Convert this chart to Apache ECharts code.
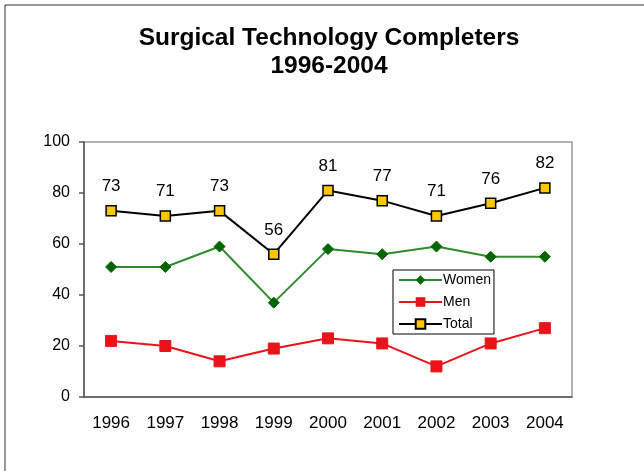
<!DOCTYPE html>
<html>
<head>
<meta charset="utf-8">
<script src="https://cdn.jsdelivr.net/npm/echarts@6/dist/echarts.min.js"></script>
<style>
  html, body { margin: 0; padding: 0; background: #fff; }
  #chart { width: 644px; height: 471px; }
</style>
</head>
<body>
<div id="chart"></div>
<script>
// Surgical technology program completers by year
const years = ['1996', '1997', '1998', '1999', '2000', '2001', '2002', '2003', '2004'];
const women = [51, 51, 59, 37, 58, 56, 59, 55, 55];
const men = [22, 20, 14, 19, 23, 21, 12, 21, 27];
const total = [73, 71, 73, 56, 81, 77, 71, 76, 82];
const titleLines = ['Surgical Technology Completers', '1996-2004'];

const font = 'Liberation Sans, Arial, sans-serif';
const chart = echarts.init(document.getElementById('chart'), null, { renderer: 'canvas' });

// Two-line heading centred over the plot area
const titleText = titleLines.map((t, i) => ({
  type: 'text',
  x: 329,
  y: 38 + i * 28,
  silent: true,
  style: {
    text: t,
    textAlign: 'center',
    textVerticalAlign: 'middle',
    font: 'bold 24.5px ' + font,
    fill: '#000'
  }
}));

chart.setOption({
  backgroundColor: '#fff',
  animation: false,
  graphic: [{
    type: 'rect',
    shape: { x: 5, y: 5, width: 700, height: 600 },
    style: { fill: 'none', stroke: '#333', lineWidth: 1 },
    silent: true
  }].concat(titleText),
  grid: {
    left: 84, right: 72, top: 142, bottom: 74,
    show: true, borderColor: '#999', borderWidth: 1.5
  },
  legend: {
    orient: 'vertical',
    left: 393, top: 270,
    padding: [3, 3, 3, 5],
    itemGap: 8,
    itemWidth: 43, itemHeight: 12,
    backgroundColor: '#fff',
    borderColor: '#000', borderWidth: 1,
    textStyle: { fontFamily: font, fontSize: 14, color: '#000', padding: [0, 0, 0, -4] },
    data: ['Women', 'Men', 'Total']
  },
  xAxis: {
    type: 'category',
    data: years,
    boundaryGap: true,
    axisLine: { lineStyle: { color: '#555', width: 1.5 } },
    axisTick: { show: false },
    axisLabel: { fontFamily: font, fontSize: 17, color: '#000', margin: 18 }
  },
  yAxis: {
    type: 'value',
    min: 0, max: 100, interval: 20,
    axisLine: { show: true, lineStyle: { color: '#555', width: 1.5 } },
    axisTick: { show: true, length: 5, lineStyle: { color: '#555', width: 1.5 } },
    splitLine: { show: false },
    axisLabel: { fontFamily: font, fontSize: 16, color: '#000', margin: 14 }
  },
  series: [
    {
      name: 'Women', type: 'line', data: women,
      symbol: 'diamond', symbolSize: 11,
      lineStyle: { color: '#2e8b2e', width: 2 },
      itemStyle: { color: '#006400', borderColor: '#006400' }
    },
    {
      name: 'Men', type: 'line', data: men,
      symbol: 'rect', symbolSize: 11,
      lineStyle: { color: '#e8141a', width: 2 },
      itemStyle: { color: '#e8141a', borderColor: '#e8141a' }
    },
    {
      name: 'Total', type: 'line', data: total,
      symbol: 'rect', symbolSize: 10,
      lineStyle: { color: '#000', width: 2 },
      itemStyle: { color: '#ffc800', borderColor: '#000', borderWidth: 1.5 },
      label: {
        show: true, position: 'top', distance: 10,
        fontFamily: font, fontSize: 17, color: '#000'
      }
    }
  ]
});
</script>
</body>
</html>
